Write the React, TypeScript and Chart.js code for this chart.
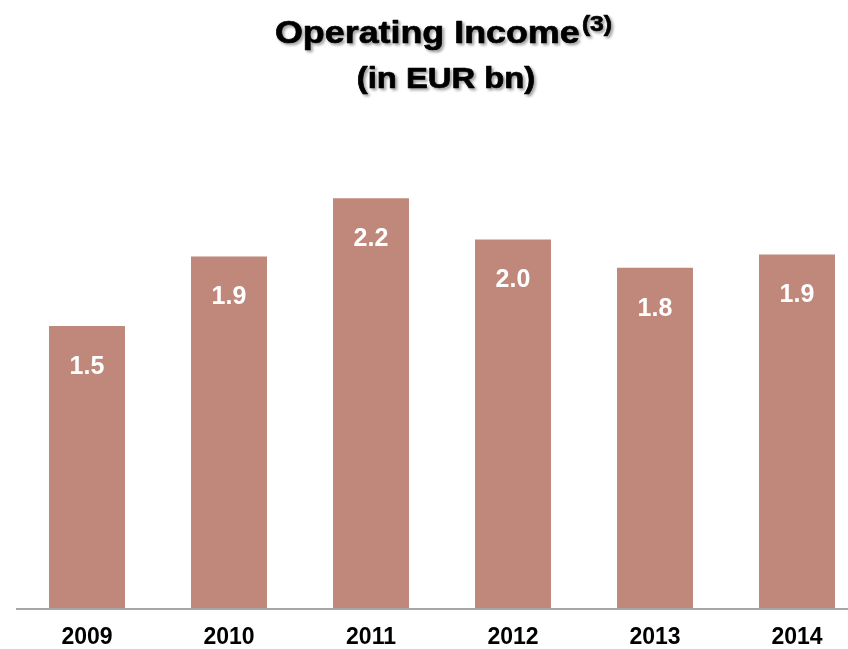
import React, { useEffect, useRef } from "react";
import { Chart, registerables } from "chart.js";

Chart.register(...registerables);

const categories = ["2009", "2010", "2011", "2012", "2013", "2014"];
const operatingIncome = [1.5, 1.87, 2.18, 1.96, 1.81, 1.88];
const titleMain = "Operating Income";
const titleSup = "(3)";
const subtitle = "(in EUR bn)";

const FONT = '"Liberation Sans", Arial, sans-serif';
const BAR_COLOR = "#C0887B";

const titlePlugin = {
  id: "customTitle",
  afterDraw(chart: any) {
    const ctx = chart.ctx as CanvasRenderingContext2D;
    ctx.save();
    ctx.fillStyle = "#000";
    ctx.strokeStyle = "#000";
    ctx.lineWidth = 0.7;
    ctx.lineJoin = "round";
    ctx.shadowColor = "rgba(0,0,0,0.35)";
    ctx.shadowOffsetX = 2;
    ctx.shadowOffsetY = 2;
    ctx.shadowBlur = 3;
    ctx.textAlign = "left";
    ctx.textBaseline = "alphabetic";
    // main title with superscript
    const sx = 1.12;
    ctx.font = `bold 32px ${FONT}`;
    const mainW = ctx.measureText(titleMain).width;
    ctx.font = `bold 22px ${FONT}`;
    const supW = ctx.measureText(titleSup).width;
    const total = (mainW + 2 + supW) * sx;
    const startX = 443.5 - total / 2;
    ctx.save();
    ctx.translate(startX, 43);
    ctx.scale(sx, 1);
    ctx.font = `bold 32px ${FONT}`;
    ctx.fillText(titleMain, 0, 0);
    ctx.strokeText(titleMain, 0, 0);
    ctx.font = `bold 22px ${FONT}`;
    ctx.fillText(titleSup, mainW + 2, -12.5);
    ctx.strokeText(titleSup, mainW + 2, -12.5);
    ctx.restore();
    // subtitle
    const sx2 = 1.13;
    ctx.font = `bold 29px ${FONT}`;
    const subW = ctx.measureText(subtitle).width * sx2;
    ctx.save();
    ctx.translate(446 - subW / 2, 88);
    ctx.scale(sx2, 1);
    ctx.fillText(subtitle, 0, 0);
    ctx.strokeText(subtitle, 0, 0);
    ctx.restore();
    ctx.restore();
  },
};

const axisLinePlugin = {
  id: "axisLine",
  afterDatasetsDraw(chart: any) {
    const ctx = chart.ctx as CanvasRenderingContext2D;
    const area = chart.chartArea;
    const y = chart.scales.y.getPixelForValue(0);
    ctx.save();
    ctx.fillStyle = "#A6A6A6";
    ctx.fillRect(area.left, y, area.right - area.left, 2);
    ctx.restore();
  },
};

const valueLabelPlugin = {
  id: "valueLabels",
  afterDatasetsDraw(chart: any) {
    const ctx = chart.ctx as CanvasRenderingContext2D;
    const meta = chart.getDatasetMeta(0);
    const data = chart.data.datasets[0].data as number[];
    ctx.save();
    ctx.fillStyle = "#FFFFFF";
    ctx.font = `bold 25px ${FONT}`;
    ctx.textAlign = "center";
    ctx.textBaseline = "middle";
    meta.data.forEach((bar: any, i: number) => {
      ctx.fillText(data[i].toFixed(1), bar.x, bar.y + 41);
    });
    ctx.restore();
  },
};

export default function App() {
  const canvasRef = useRef<HTMLCanvasElement | null>(null);

  useEffect(() => {
    if (!canvasRef.current) return;
    const chart = new Chart(canvasRef.current, {
      type: "bar",
      data: {
        labels: categories,
        datasets: [
          {
            data: operatingIncome,
            backgroundColor: BAR_COLOR,
            borderWidth: 0,
            barPercentage: 0.535,
            categoryPercentage: 1,
          },
        ],
      },
      options: {
        animation: false,
        responsive: false,
        devicePixelRatio: 1,
        layout: { padding: { left: 16, right: 2, top: 138, bottom: 0 } },
        plugins: {
          legend: { display: false },
          title: { display: false },
          tooltip: { enabled: false },
        },
        scales: {
          x: {
            grid: { display: false, drawTicks: false },
            border: { display: false },
            ticks: {
              color: "#000",
              padding: 16,
              font: { family: FONT, size: 23, weight: "bold" },
              maxRotation: 0,
            },
            afterFit: (scale: any) => {
              scale.height = 41;
            },
          },
          y: {
            display: false,
            min: 0,
            max: 2.5,
          },
        },
      },
      plugins: [axisLinePlugin, valueLabelPlugin, titlePlugin],
    });
    return () => chart.destroy();
  }, []);

  return (
    <div
      style={{
        position: "absolute",
        left: 0,
        top: 0,
        width: 848,
        height: 649,
        overflow: "hidden",
        background: "#fff",
      }}
    >
      <canvas ref={canvasRef} width={870} height={649} style={{ display: "block" }} />
    </div>
  );
}
